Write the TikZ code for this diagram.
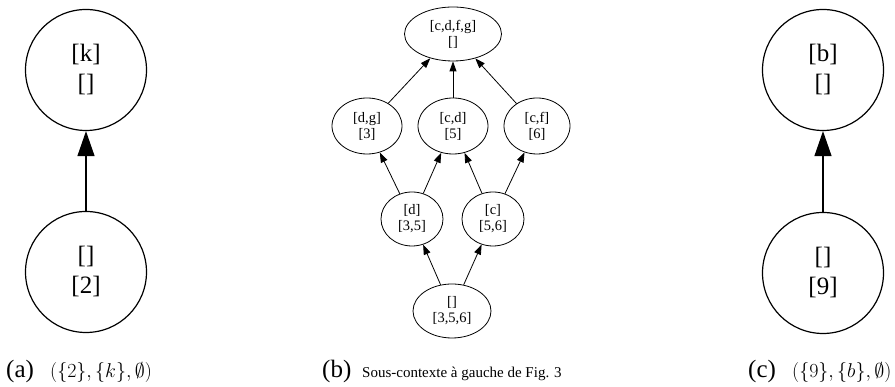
\RequirePackage{fix-cm}
\documentclass[tikz,border=0pt]{standalone}
\usepackage[no-math]{fontspec}
\setmainfont{Liberation Serif}
\usetikzlibrary{arrows.meta,shapes.geometric}
\begin{document}
\begin{tikzpicture}[x=1pt,y=1pt,
    bignode/.style={circle,draw,line width=1.2pt,minimum size=121pt,inner sep=0pt,align=center,font=\fontsize{25}{30}\selectfont},
    bigarrow/.style={-{Triangle[length=25pt,width=17pt]},line width=1.2pt},
    smallnode/.style={ellipse,draw,line width=0.8pt,minimum height=54pt,inner sep=0pt,align=center,font=\fontsize{14.5}{16}\selectfont},
    smallarrow/.style={-{Triangle[length=10pt,width=7pt]},line width=0.8pt},
    tag/.style={anchor=base west,inner sep=0pt,font=\fontsize{25}{27}\selectfont},
    setlabel/.style={anchor=base west,inner sep=0pt,font=\fontsize{20}{22}\selectfont}]
\useasboundingbox (0,0) rectangle (895,387);
% (a)
\node[bignode] (atop) at (86,317) {[k]\\{}[]};
\node[bignode] (abot) at (86,115) {[]\\{}[2]};
\draw[bigarrow] (abot) -- (atop);
\node[tag] (atag) at (6,9) {(a)};
\node[setlabel] (aset) at (50,9) {$(\{2\},\{k\},\emptyset)$};
% (b)
\node[smallnode,minimum width=97pt] (cdfg) at (453,353) {[c,d,f,g]\\{}[]};
\node[smallnode,minimum width=70pt,minimum height=56pt] (dg) at (367,261) {[d,g]\\{}[3]};
\node[smallnode,minimum width=70pt,minimum height=56pt] (cd) at (453,261) {[c,d]\\{}[5]};
\node[smallnode,minimum width=66pt,minimum height=56pt] (cf) at (537,261) {[c,f]\\{}[6]};
\node[smallnode,minimum width=62pt] (d) at (412,168) {[d]\\{}[3,5]};
\node[smallnode,minimum width=62pt] (c) at (493,168) {[c]\\{}[5,6]};
\node[smallnode,minimum width=78pt] (empty) at (452,76) {[]\\{}[3,5,6]};
\draw[smallarrow] (empty) -- (d);
\draw[smallarrow] (empty) -- (c);
\draw[smallarrow] (d) -- (dg);
\draw[smallarrow] (d) -- (cd);
\draw[smallarrow] (c) -- (cd);
\draw[smallarrow] (c) -- (cf);
\draw[smallarrow] (dg) -- (cdfg);
\draw[smallarrow] (cd) -- (cdfg);
\draw[smallarrow] (cf) -- (cdfg);
\node[tag] (btag) at (322,9) {(b)};
\node[anchor=base west,inner sep=0pt,font=\fontsize{15}{18}\selectfont] (bcap) at (362,9) {Sous-contexte à gauche de Fig. 3};
% (c)
\node[bignode] (ctop) at (823,317) {[b]\\{}[]};
\node[bignode] (cbot) at (823,114) {[]\\{}[9]};
\draw[bigarrow] (cbot) -- (ctop);
\node[tag] (ctag) at (748,9) {(c)};
\node[setlabel] (cset) at (792,9) {$(\{9\},\{b\},\emptyset)$};
\end{tikzpicture}
\end{document}
